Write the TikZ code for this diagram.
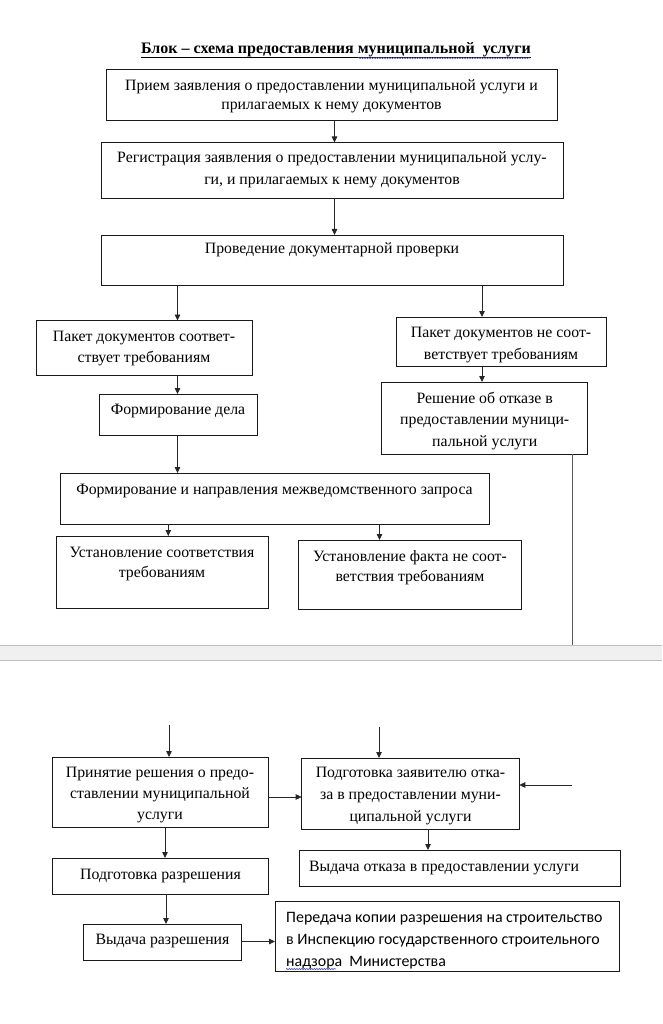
\documentclass[tikz,border=0pt]{standalone}
\usepackage{fontspec}
\setmainfont{Liberation Serif}
\newfontfamily\calibrifont{Carlito}
\usetikzlibrary{arrows.meta,calc,decorations.pathmorphing}
\newcommand\bx[5]{\node[box, minimum width={#4-#2}, minimum height={#5-#3}] (#1) at ({(#2+#4)/2},{(#3+#5)/2}) {};}
\begin{document}
\begin{tikzpicture}[x=1pt,y=-1pt,
  box/.style={draw=black!90, line width=0.9pt, inner sep=0pt, outer sep=0pt},
  txt/.style={font=\fontsize{15.8}{21.5}\selectfont, align=center, inner sep=0pt, anchor=base},
  arr/.style={draw=black!85, line width=0.8pt, -{Triangle[length=6pt,width=5.5pt]}},
  plain/.style={draw=black!65, line width=0.9pt},
  spell/.style={draw=blue!60!black!70, line width=0.6pt, decorate, decoration={snake, amplitude=0.6pt, segment length=2.5pt}},
]
\useasboundingbox (0,0) rectangle (662,1024);
% page break band
\fill[black!6] (0,645) rectangle (662,660);
\draw[black!25, line width=0.8pt] (0,645) -- (662,645);
\draw[black!25, line width=0.8pt] (0,660) -- (662,660);

% title
\node[txt, font=\fontsize{16}{18}\selectfont\bfseries] (title) at (336,54) {Блок – схема предоставления муниципальной\ \ услуги};
\draw[line width=0.8pt] ($(title.base west)+(0,3)$) -- ($(title.base east)+(0,3)$);

% boxes
\bx{b1}{106}{69}{557}{120}
\bx{b2}{101}{142.5}{563}{198}
\bx{b3}{101}{235}{563}{285}
\bx{L1}{36}{320.5}{252}{375}
\bx{R1}{396}{317}{606.5}{366.7}
\bx{fd}{99}{394}{257}{435.7}
\bx{rej}{381.7}{382}{587.7}{454}
\bx{fn}{60.7}{473}{489}{524}
\bx{us}{56}{536}{268.3}{608.3}
\bx{uf}{298.5}{540}{521}{609.3}
\bx{pr}{52.7}{757}{268.3}{827}
\bx{pz}{301.7}{758}{519.3}{829.3}
\bx{vo}{299.3}{850}{620}{886}
\bx{pd}{52.7}{858}{268.3}{894}
\bx{vr}{83.3}{924}{241.7}{960}
\bx{pk}{275}{901.7}{619}{971.7}

% texts (anchor base = baseline of the last line)
\node[txt, font=\fontsize{15.8}{19}\selectfont] (t1) at (331.5,110) {Прием заявления о предоставлении муниципальной услуги и\\прилагаемых к нему документов};
\node[txt] (t2) at (332,184.5) {Регистрация заявления о предоставлении муниципальной услу-\\ги, и прилагаемых к нему документов};
\node[txt] (t3) at (332,253) {Проведение документарной проверки};
\node[txt, font=\fontsize{15.8}{21}\selectfont] (tL1) at (144,362) {Пакет документов соответ-\\ствует требованиям};
\node[txt, font=\fontsize{15.8}{22}\selectfont] (tR1) at (501,359) {Пакет документов не соот-\\ветствует требованиям};
\node[txt] (tfd) at (178,414) {Формирование дела};
\node[txt] (trej) at (484.7,446) {Решение об отказе в\\предоставлении муници-\\пальной услуги};
\node[txt] (tfn) at (274.5,494) {Формирование и направления межведомственного запроса};
\node[txt, font=\fontsize{15.8}{20}\selectfont] (tus) at (162,577) {Установление соответствия\\требованиям};
\node[txt, font=\fontsize{15.8}{20.5}\selectfont] (tuf) at (410,581.5) {Установление факта не соот-\\ветствия требованиям};
\node[txt, font=\fontsize{15.8}{21}\selectfont] (tpr) at (160,819) {Принятие решения о предо-\\ставлении муниципальной\\услуги};
\node[txt, font=\fontsize{15.8}{22}\selectfont] (tpz) at (410.5,821) {Подготовка заявителю отка-\\за в предоставлении муни-\\ципальной услуги};
\node[txt, anchor=base west] (tvo) at (309,871) {Выдача отказа в предоставлении услуги};
\node[txt] (tpd) at (160.5,879) {Подготовка разрешения};
\node[txt] (tvr) at (162.5,944) {Выдача разрешения};
\node[txt, anchor=base west, align=left, font=\calibrifont\fontsize{15.9}{22}\selectfont] (tpk) at (286,966) {Передача копии разрешения на строительство\\в Инспекцию государственного строительного\\надзора\ \ Министерства};

% spell-check marks
\draw[spell] (358,58) -- (530,58);
\draw[spell] (286,969) -- (336,969);

% column coordinates
\coordinate (cA) at (334.5,0);
\coordinate (cL) at (177.5,0);
\coordinate (cR) at (482,0);
\coordinate (cU) at (168.3,0);
\coordinate (cF) at (379.5,0);
\coordinate (cV) at (572,0);
\coordinate (inPr) at (169,725);
\coordinate (inPz) at (379,726.5);
\coordinate (inRight) at (572,785);
\coordinate (lineEnd) at (572,645);

% connectors
\draw[arr] (b1.south -| cA) -- (b2.north -| cA);
\draw[arr] (b2.south -| cA) -- (b3.north -| cA);
\draw[arr] (b3.south -| cL) -- (L1.north -| cL);
\draw[arr] (b3.south -| cR) -- (R1.north -| cR);
\draw[arr] (L1.south -| cL) -- (fd.north -| cL);
\draw[arr] (R1.south -| cR) -- (rej.north -| cR);
\draw[arr] (fd.south -| cL) -- (fn.north -| cL);
\draw[arr] (fn.south -| cU) -- (us.north -| cU);
\draw[arr] (fn.south -| cF) -- (uf.north -| cF);
\draw[plain] (rej.south -| cV) -- (lineEnd);

\draw[arr] (inPr) -- (inPr |- pr.north);
\draw[arr] (inPz) -- (inPz |- pz.north);
\draw[arr] (pr.east |- 0,797) -- (pz.west |- 0,797);
\draw[arr] (inRight) -- (inRight -| pz.east);
\draw[arr] ([xshift=17.5pt]pz.south) -- ([xshift=17.5pt]pz.south |- vo.north);
\draw[arr] ([xshift=4.5pt]pr.south) -- ([xshift=4.5pt]pr.south |- pd.north);
\draw[arr] ([xshift=5.5pt]pd.south) -- ([xshift=5.5pt]pd.south |- vr.north);
\draw[arr] (vr.east |- 0,941.5) -- (pk.west |- 0,941.5);
\end{tikzpicture}
\end{document}
